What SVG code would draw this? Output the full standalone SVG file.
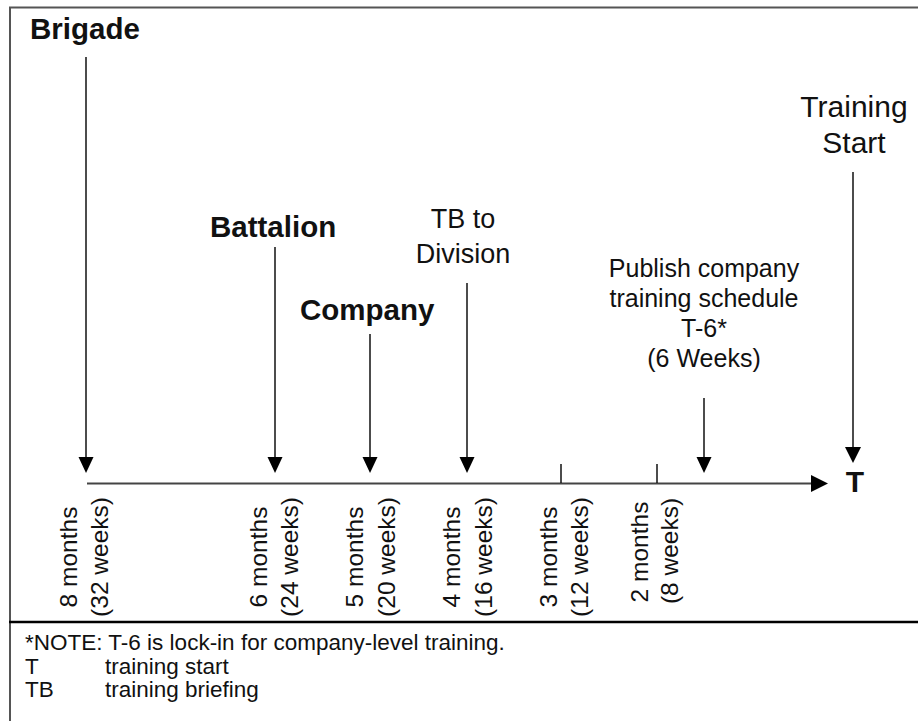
<svg xmlns="http://www.w3.org/2000/svg" width="918" height="721" viewBox="0 0 918 721">
<style>
text{font-family:"Liberation Sans",Arial,sans-serif;fill:#111}
.b{font-weight:bold;font-size:29.5px}
.r{font-size:25px}
.v{font-size:24.5px;text-anchor:middle}
.c{text-anchor:middle}
.n{font-size:22.5px}
.ln{stroke:#111;stroke-width:1.5}
.ah{fill:#000}
</style>
<rect x="0" y="0" width="918" height="721" fill="#fff"/>
<path d="M10 730 V7.5 H930" fill="none" stroke="#555" stroke-width="2"/>
<line x1="9" y1="622" x2="918" y2="622" stroke="#000" stroke-width="2.5"/>

<g id="connectors">
  <line x1="87" y1="483.5" x2="812" y2="483.5" stroke="#444" stroke-width="2"/>
  <polygon class="ah" points="811,475 828,483.5 811,492"/>
  <line class="ln" x1="561" y1="464" x2="561" y2="483"/>
  <line class="ln" x1="657" y1="464" x2="657" y2="483"/>
  <line class="ln" x1="86" y1="57" x2="86" y2="460"/>
  <polygon class="ah" points="78.5,457 93.5,457 86,473"/>
  <line class="ln" x1="275" y1="247" x2="275" y2="460"/>
  <polygon class="ah" points="267.5,457 282.5,457 275,473"/>
  <line class="ln" x1="370" y1="334" x2="370" y2="460"/>
  <polygon class="ah" points="362.5,457 377.5,457 370,473"/>
  <line class="ln" x1="467" y1="283" x2="467" y2="460"/>
  <polygon class="ah" points="459.5,457 474.5,457 467,473"/>
  <line class="ln" x1="704" y1="398" x2="704" y2="460"/>
  <polygon class="ah" points="696.5,457 711.5,457 704,473"/>
  <line class="ln" x1="853" y1="172" x2="853" y2="450"/>
  <polygon class="ah" points="845,447 861,447 853,463"/>
</g>

<g id="brigade"><text class="b" x="30" y="39">Brigade</text></g>
<g id="battalion"><text class="b" x="210" y="237">Battalion</text></g>
<g id="company"><text class="b" x="300" y="320">Company</text></g>
<g id="tb-division">
  <text class="c" style="font-size:27px" x="463" y="228">TB to</text>
  <text class="c" style="font-size:27px" x="463" y="263">Division</text>
</g>
<g id="training-start">
  <text class="c" style="font-size:30px" x="854" y="117">Training</text>
  <text class="c" style="font-size:30px" x="854" y="153">Start</text>
</g>
<g id="publish">
  <text class="r c" x="704" y="277">Publish company</text>
  <text class="r c" x="704" y="307">training schedule</text>
  <text class="r c" x="704" y="337">T-6*</text>
  <text class="r c" x="704" y="367">(6 Weeks)</text>
</g>
<g id="t-label"><text class="b c" style="font-size:30px" x="855" y="492">T</text></g>

<g id="scale">
  <text class="v" transform="translate(77 557) rotate(-90)">8 months</text>
  <text class="v" transform="translate(108 557) rotate(-90)">(32 weeks)</text>
  <text class="v" transform="translate(267 557) rotate(-90)">6 months</text>
  <text class="v" transform="translate(298 557) rotate(-90)">(24 weeks)</text>
  <text class="v" transform="translate(363 557) rotate(-90)">5 months</text>
  <text class="v" transform="translate(395 557) rotate(-90)">(20 weeks)</text>
  <text class="v" transform="translate(460 557) rotate(-90)">4 months</text>
  <text class="v" transform="translate(492 557) rotate(-90)">(16 weeks)</text>
  <text class="v" transform="translate(557 557) rotate(-90)">3 months</text>
  <text class="v" transform="translate(588 557) rotate(-90)">(12 weeks)</text>
  <text class="v" transform="translate(648 552) rotate(-90)">2 months</text>
  <text class="v" transform="translate(678 551) rotate(-90)">(8 weeks)</text>
</g>

<g id="notes">
  <text class="n" x="25" y="650">*NOTE: T-6 is lock-in for company-level training.</text>
  <text class="n" x="25" y="674">T</text>
  <text class="n" x="105" y="674">training start</text>
  <text class="n" x="25" y="697">TB</text>
  <text class="n" x="105" y="697">training briefing</text>
</g>
</svg>
